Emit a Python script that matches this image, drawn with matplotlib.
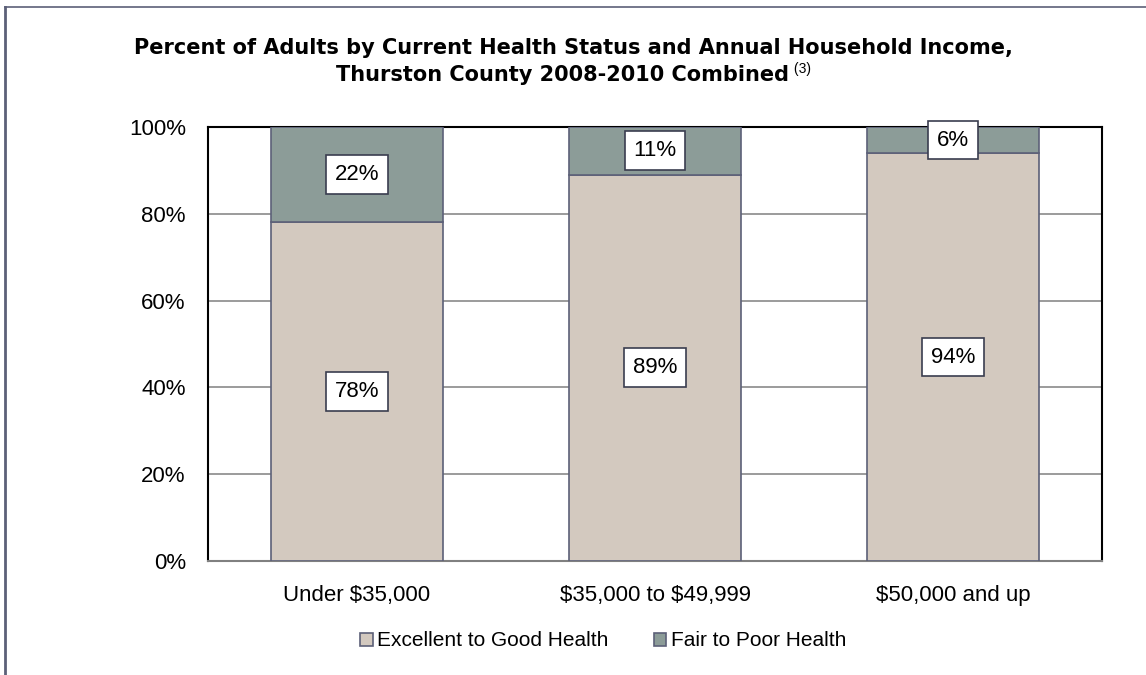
import matplotlib
matplotlib.use('Agg')
import matplotlib.pyplot as plt
from matplotlib.patches import Patch
import numpy as np

# 数据
income_groups = ['Under \\$35,000', '\\$35,000 to \\$49,999', '\\$50,000 and up']
excellent_good = [78, 89, 94]
fair_poor = [22, 11, 6]
series_names = ['Excellent to Good Health', 'Fair to Poor Health']

plt.rcParams['font.family'] = ['Liberation Sans', 'DejaVu Sans']

col_good = '#d3c9bf'
col_poor = '#8c9c98'
edge = '#5c6078'

fig = plt.figure(figsize=(11.46, 6.75), dpi=100)
ax = fig.add_axes([208 / 1146, 1 - 561 / 675, (1102 - 208) / 1146, (561 - 127) / 675])

x = np.arange(len(income_groups))
w = 0.574
ax.bar(x, excellent_good, w, color=col_good, edgecolor=edge, linewidth=1.2, zorder=3)
ax.bar(x, fair_poor, w, bottom=excellent_good, color=col_poor, edgecolor=edge,
       linewidth=1.2, zorder=3)

# 数值标签
box = dict(boxstyle='square,pad=0.4', facecolor='white', edgecolor='#3a3d4f', linewidth=1.2)
for i in range(len(x)):
    ax.text(x[i], excellent_good[i] / 2, f'{excellent_good[i]}%', ha='center', va='center',
            fontsize=16, bbox=box, zorder=5)
    ax.text(x[i], excellent_good[i] + fair_poor[i] / 2, f'{fair_poor[i]}%', ha='center',
            va='center', fontsize=16, bbox=box, zorder=5)

ax.set_xlim(-0.5, 2.5)
ax.set_ylim(0, 100)
ax.set_yticks(range(0, 101, 20))
ax.set_yticklabels([f'{v}%' for v in range(0, 101, 20)], fontsize=16)
ax.set_xticks(x)
ax.set_xticklabels(income_groups, fontsize=16)
ax.tick_params(length=0)
ax.tick_params(axis='x', pad=17)
ax.tick_params(axis='y', pad=16)
ax.grid(axis='y', color='#8a8a8a', linewidth=1.2, zorder=0)
for s in ['top', 'right', 'left']:
    ax.spines[s].set_color('black')
    ax.spines[s].set_linewidth(1.5)
ax.spines['bottom'].set_color('#808080')
ax.spines['bottom'].set_linewidth(1.5)

handles = [Patch(facecolor=col_good, edgecolor=edge, linewidth=1.2),
           Patch(facecolor=col_poor, edgecolor=edge, linewidth=1.2)]
fig.legend(handles, series_names, loc='center', bbox_to_anchor=(603 / 1146, 1 - 641 / 675),
           ncol=2, frameon=False, fontsize=15, handlelength=0.6, handleheight=0.6,
           handletextpad=0.2, columnspacing=2.2)

# 标题
fig.text(573 / 1146, 1 - 48 / 675,
         'Percent of Adults by Current Health Status and Annual Household Income,',
         ha='center', va='center', fontsize=15, fontweight='bold', family='DejaVu Sans')
t2 = fig.text(563 / 1146, 1 - 75 / 675, 'Thurston County 2008-2010 Combined',
              ha='center', va='center', fontsize=15, fontweight='bold', family='DejaVu Sans')
fig.add_artist(plt.Annotation(' (3)', xy=(1, 0.78), xycoords=t2, fontsize=10,
                              va='center', ha='left'))

# 外框
fig.add_artist(plt.Line2D([5 / 1146, 5 / 1146], [0, 1 - 7 / 675], color=edge, linewidth=2,
                          transform=fig.transFigure))
fig.add_artist(plt.Line2D([5 / 1146, 1], [1 - 7 / 675, 1 - 7 / 675], color=edge, linewidth=1.2,
                          transform=fig.transFigure))

fig.savefig('out.png', dpi=100)
